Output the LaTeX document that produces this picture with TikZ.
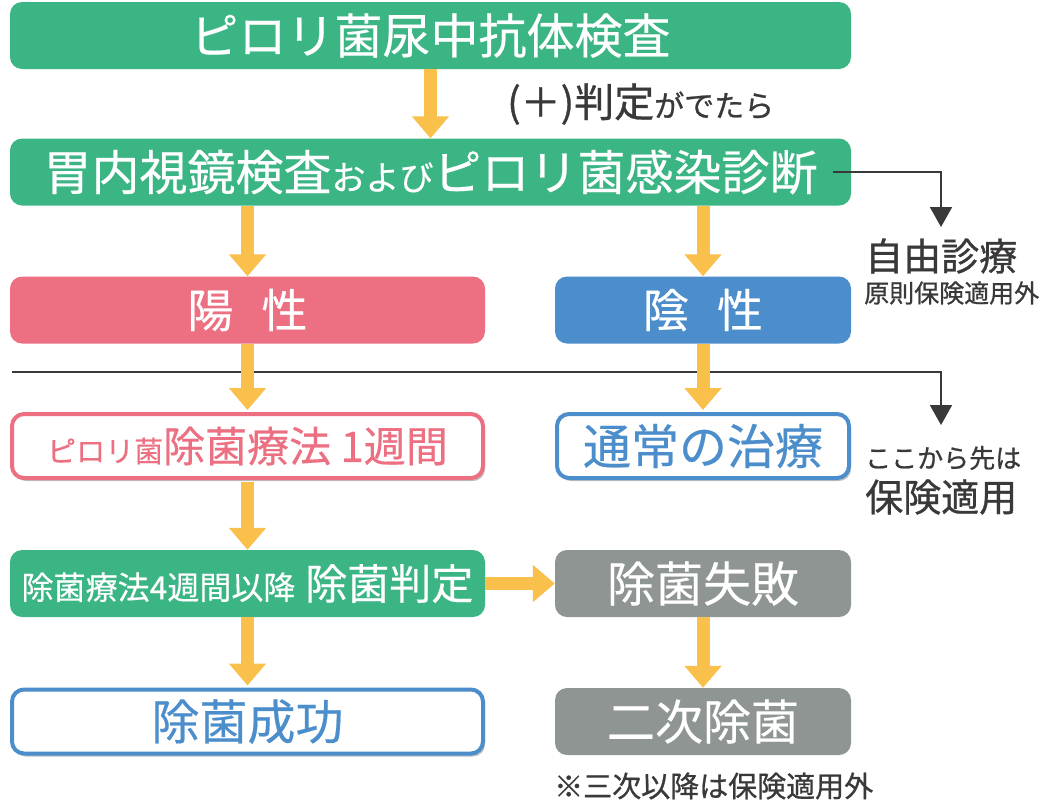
\documentclass[tikz,border=0pt]{standalone}
\usepackage{fontspec}
\setmainfont{Noto Sans CJK JP}[FakeBold=0.4]
\newfontfamily\darkfont{Noto Sans CJK JP}[FakeBold=0.8]
\usetikzlibrary{arrows.meta,shadows}
\definecolor{pgreen}{HTML}{3CB584}
\definecolor{ppink}{HTML}{EC6F82}
\definecolor{pblue}{HTML}{4B8ECB}
\definecolor{pgray}{HTML}{8F9592}
\definecolor{pyellow}{HTML}{F9C04C}
\definecolor{pdark}{HTML}{3A3838}
\newcommand\fsz[1]{\fontsize{#1}{#1}\selectfont}
\begin{document}
\begin{tikzpicture}[x=1pt,y=-1pt,
  box/.style={rounded corners=12pt,minimum height=67pt,inner sep=0pt,text=white},
  wide/.style={minimum width=475pt},
  narrow/.style={minimum width=296pt},
  framed/.style={fill=white,line width=4pt,minimum height=64pt,
    drop shadow={shadow xshift=2pt,shadow yshift=-3pt,fill=black,opacity=.25}},
  yarrow/.style={-{Triangle[width=36pt,length=22pt]},line width=13pt,pyellow},
  karrow/.style={-{Triangle[width=22pt,length=20pt]},line width=2pt,pdark},
  note/.style={anchor=west,inner sep=0pt,text=pdark,font=\darkfont}]
  \useasboundingbox (0,0) rectangle (1044,801);
  % boxes
  \node[box,fill=pgreen,minimum width=841pt] (test) at (430.5,35.5) {\fsz{48}ピロリ菌尿中抗体検査};
  \node[box,fill=pgreen,minimum width=841pt] (exam) at (430.5,172) {\fsz{48}胃内視鏡検査{\fsz{34}および}ピロリ菌感染診断};
  \node[box,wide,fill=ppink] (pos) at (247.5,310) {\fsz{46}陽\hspace{28pt}性};
  \node[box,narrow,fill=pblue] (neg) at (703,310) {\fsz{46}陰\hspace{28pt}性};
  \node[box,framed,draw=ppink,text=ppink,minimum width=471pt] (erad) at (247.5,446) {{\fsz{29}ピロリ菌}\fsz{42}除菌療法 1週間};
  \node[box,framed,draw=pblue,text=pblue,minimum width=292pt] (usual) at (703,446) {\fsz{48}通常の治療};
  \node[box,wide,fill=pgreen] (judge) at (247.5,583.5) {{\fsz{32}除菌療法4週間以降}\hspace{10pt}\fsz{42}除菌判定};
  \node[box,narrow,fill=pgray] (fail) at (703,583.5) {\fsz{48}除菌失敗};
  \node[box,framed,draw=pblue,text=pblue,minimum width=471pt] (success) at (247.5,721.5) {\fsz{48}除菌成功};
  \node[box,narrow,fill=pgray] (second) at (703,721.5) {\fsz{48}二次除菌};
  % side notes
  \node[note] (cond) at (507,104) {\fsz{40}(＋)判定{\fsz{30}がでたら}};
  \node[note] (free) at (865,256) {\fsz{38}自由診療};
  \node[note] (freesub) at (864,293) {\fsz{25}原則保険適用外};
  \node[note] (ins) at (865,458) {\fsz{26}ここから先は};
  \node[note] (inssub) at (865,497) {\fsz{38}保険適用};
  \node[note] (foot) at (554,786) {\fsz{29}※三次以降は保険適用外};
  % black connectors
  \coordinate (freetip) at (941,227);
  \coordinate (linestart) at (12,372);
  \coordinate (instip) at (941,425);
  \draw[karrow] ([xshift=-18pt]exam.east) -| (freetip);
  \draw[karrow] (linestart) -| (instip);
  % yellow arrows
  \draw[yarrow] (test.south) -- (exam.north);
  \draw[yarrow] (exam.south -| pos.north) -- (pos.north);
  \draw[yarrow] (exam.south -| neg.north) -- (neg.north);
  \draw[yarrow] (pos.south) -- ([yshift=2pt]erad.north);
  \draw[yarrow] (neg.south) -- ([yshift=2pt]usual.north);
  \draw[yarrow] ([yshift=-2pt]erad.south) -- (judge.north);
  \draw[yarrow] (judge.east) -- (fail.west);
  \draw[yarrow] (judge.south) -- ([yshift=2pt]success.north);
  \draw[yarrow] (fail.south) -- (second.north);
\end{tikzpicture}
\end{document}
